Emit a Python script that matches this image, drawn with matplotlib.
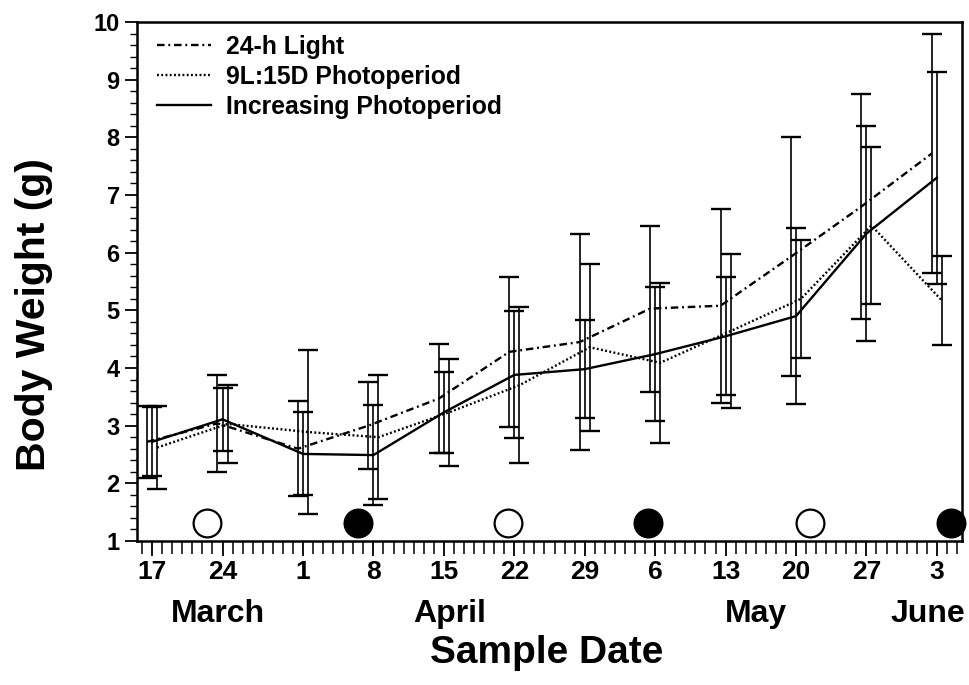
import numpy as np
import matplotlib
matplotlib.use('Agg')
import matplotlib.pyplot as plt
import matplotlib.dates as mdates
from matplotlib.ticker import MultipleLocator
from matplotlib.transforms import blended_transform_factory

plt.rcParams['font.family'] = ['Liberation Sans', 'DejaVu Sans']
plt.rcParams['font.weight'] = 'bold'

# sample dates (weekly) and their tick labels
sample_dates = np.array(['1997-03-17', '1997-03-24', '1997-04-01', '1997-04-08',
                         '1997-04-15', '1997-04-22', '1997-04-29', '1997-05-06',
                         '1997-05-13', '1997-05-20', '1997-05-27', '1997-06-03'],
                        dtype='datetime64[h]')
tick_labels = ['17', '24', '1', '8', '15', '22', '29', '6', '13', '20', '27', '3']

# mean body weight (g) and SD for each treatment
light24_mean = [2.72, 3.04, 2.60, 3.00, 3.47, 4.28, 4.45, 5.03, 5.08, 5.93, 6.80, 7.72]
light24_sd = [0.62, 0.84, 0.82, 0.76, 0.95, 1.30, 1.88, 1.44, 1.68, 2.07, 1.95, 2.07]

short_mean = [2.62, 3.03, 2.89, 2.80, 3.23, 3.70, 4.36, 4.09, 4.64, 5.20, 6.47, 5.17]
short_sd = [0.72, 0.67, 1.42, 1.07, 0.93, 1.35, 1.45, 1.39, 1.33, 1.02, 1.36, 0.77]

incr_mean = [2.72, 3.11, 2.51, 2.49, 3.23, 3.88, 3.98, 4.24, 4.55, 4.90, 6.33, 7.30]
incr_sd = [0.60, 0.55, 0.72, 0.87, 0.70, 1.10, 0.85, 1.16, 1.02, 1.52, 1.87, 1.84]

# moon phases: full (open) and new (filled)
full_moon = np.array(['1997-03-22T12', '1997-04-21T10', '1997-05-21T10'], dtype='datetime64[h]')
new_moon = np.array(['1997-04-06T10', '1997-05-05T08', '1997-06-04T10'], dtype='datetime64[h]')
moon_y = 1.31

month_names = ['March', 'April', 'May', 'June']
month_pos = np.array(['1997-03-23T14', '1997-04-15T14', '1997-05-16T00', '1997-06-02T02'],
                     dtype='datetime64[h]')

fig = plt.figure(figsize=(9.69, 6.85), dpi=100)
ax = fig.add_axes([137/969, 1 - 541/685, 825/969, 519/685])

series = [
    ('24-h Light', light24_mean, light24_sd, -12, (0, (3.2, 1.6, 0.8, 1.6))),
    ('9L:15D Photoperiod', short_mean, short_sd, 12, (0, (0.8, 1.0))),
    ('Increasing Photoperiod', incr_mean, incr_sd, 0, '-'),
]

for label, m, sd, off, ls in series:
    x = mdates.date2num(sample_dates + np.timedelta64(off, 'h'))
    ax.errorbar(x, m, yerr=sd, fmt='none', ecolor='black', elinewidth=1.2,
                capsize=7, capthick=1.7, zorder=2)
    ax.plot(x, m, color='black', lw=1.7, linestyle=ls, label=label, zorder=3)

ax.plot(mdates.date2num(full_moon), [moon_y] * len(full_moon), 'o', ms=20,
        mfc='white', mec='black', mew=1.6, clip_on=False, zorder=4)
ax.plot(mdates.date2num(new_moon), [moon_y] * len(new_moon), 'o', ms=20,
        mfc='black', mec='black', mew=1.6, clip_on=False, zorder=4)

ax.xaxis_date()
ax.set_xlim(mdates.date2num(np.datetime64('1997-03-15T12')),
            mdates.date2num(np.datetime64('1997-06-05T12')))
ax.set_ylim(1, 10)
ax.set_xticks(mdates.date2num(sample_dates))
ax.set_xticklabels(tick_labels)
ax.xaxis.set_minor_locator(mdates.DayLocator())
ax.set_yticks(range(1, 11))
ax.yaxis.set_minor_locator(MultipleLocator(0.2))

ax.tick_params(axis='x', which='major', length=10.5, width=1.3, pad=3, labelsize=19)
ax.tick_params(axis='x', which='minor', length=9.5, width=1.1)
ax.tick_params(axis='y', which='major', length=9, width=1.3, pad=3.5, labelsize=17)
ax.tick_params(axis='y', which='minor', length=5, width=1.0)
for s in ax.spines.values():
    s.set_linewidth(1.8)

trans = blended_transform_factory(ax.transData, ax.transAxes)
for name, pos in zip(month_names, month_pos):
    ax.text(mdates.date2num(pos), -0.156, name, transform=trans, ha='center',
            va='baseline', fontsize=23, fontweight='bold')

ax.set_xlabel('Sample Date', fontsize=28, fontweight='bold', va='baseline')
ax.xaxis.set_label_coords(0.496, -0.235)
ax.set_ylabel('Body Weight (g)', fontsize=29.5, fontweight='bold', va='baseline')
ax.yaxis.set_label_coords(-0.1115, 0.4355)

ax.legend(loc='upper left', bbox_to_anchor=(0.012, 0.994), borderaxespad=0,
          frameon=False, handlelength=2.2, handletextpad=0.6,
          labelspacing=0.24, prop={'weight': 'bold', 'size': 17.8})

fig.savefig('out.png', dpi=100)
